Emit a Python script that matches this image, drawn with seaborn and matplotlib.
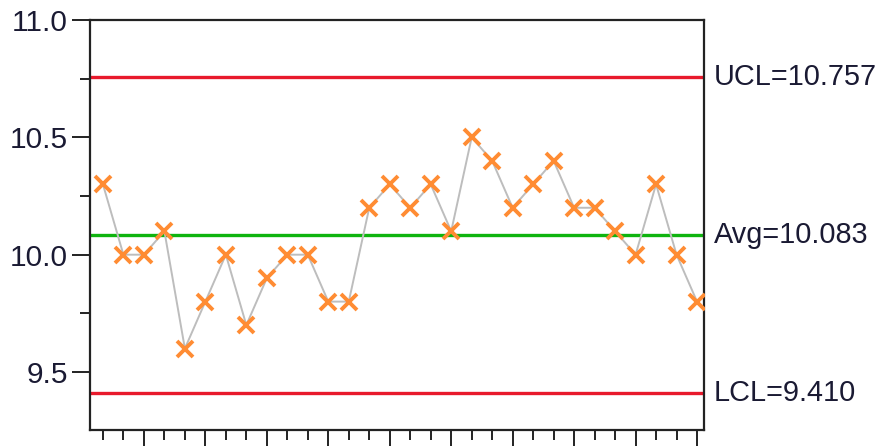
import matplotlib
matplotlib.use('Agg')
import matplotlib.pyplot as plt
import pandas as pd
import seaborn as sns
from matplotlib.ticker import MultipleLocator, FormatStrFormatter

# data
samples = list(range(1, 31))
values = [10.3, 10.0, 10.0, 10.1, 9.6, 9.8, 10.0, 9.7, 9.9, 10.0,
          10.0, 9.8, 9.8, 10.2, 10.3, 10.2, 10.3, 10.1, 10.5, 10.4,
          10.2, 10.3, 10.4, 10.2, 10.2, 10.1, 10.0, 10.3, 10.0, 9.8]
avg = 10.083
ucl = 10.757
lcl = 9.410

sns.set_style('ticks')
plt.rcParams['font.family'] = ['Liberation Sans', 'DejaVu Sans']

fig = plt.figure(figsize=(8.8, 4.46), dpi=100)
ax = fig.add_axes([0.1023, 0.036, 0.6977, 0.919])

# control limits
ax.axhline(ucl, color='#e8192c', lw=2.4, zorder=1)
ax.axhline(lcl, color='#e8192c', lw=2.4, zorder=1)
ax.axhline(avg, color='#0fb40f', lw=2.4, zorder=1)

df = pd.DataFrame({'sample': samples, 'value': values})
sns.lineplot(data=df, x='sample', y='value', ax=ax, color='#bdbdbd', lw=1.4,
             marker='x', markersize=11, markeredgecolor='#ff8c33',
             markeredgewidth=2.8, zorder=3)

# labels to the right of the plot
trans = ax.get_yaxis_transform()
for y, lab in [(ucl, f'UCL={ucl:.3f}'), (avg, f'Avg={avg:.3f}'), (lcl, f'LCL={lcl:.3f}')]:
    ax.text(1.016, y, lab, transform=trans, va='center', ha='left',
            fontsize=20.8, color='#1a1a33', clip_on=False)

ax.set_xlim(0.37, 30.34)
ax.set_ylim(9.253, 11.0)
ax.set_xlabel('')
ax.set_ylabel('')

ax.xaxis.set_major_locator(MultipleLocator(3))
ax.xaxis.set_minor_locator(MultipleLocator(1))
ax.yaxis.set_major_locator(MultipleLocator(0.5))
ax.yaxis.set_minor_locator(MultipleLocator(0.25))
ax.yaxis.set_major_formatter(FormatStrFormatter('%.1f'))

ax.tick_params(axis='x', which='major', length=14, width=1.4, color='#222222', labelbottom=False)
ax.tick_params(axis='x', which='minor', length=7, width=1.4, color='#222222')
ax.tick_params(axis='y', which='major', length=13, width=1.4, color='#222222',
               labelsize=21.5, labelcolor='#1a1a33', pad=3)
ax.tick_params(axis='y', which='minor', length=7, width=1.4, color='#222222')

for sp in ax.spines.values():
    sp.set_visible(True)
    sp.set_color('#222222')
    sp.set_linewidth(1.6)

fig.savefig('out.png', dpi=100, facecolor='white')
